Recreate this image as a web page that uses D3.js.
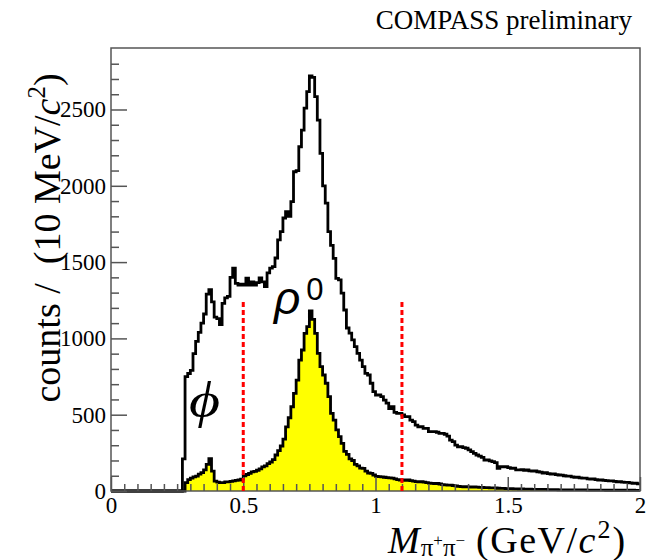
<!DOCTYPE html>
<html>
<head>
<meta charset="utf-8">
<script src="https://cdn.jsdelivr.net/npm/d3@7/dist/d3.min.js"></script>
<style>
  html, body { margin: 0; padding: 0; background: #fff; }
  svg { display: block; }
</style>
</head>
<body>
<svg id="chart" width="646" height="560"></svg>
<script>
// Invariant mass spectrum, 10 MeV bins from 0 to 2 GeV/c^2 (200 bins)
const massRange = [0, 2];
const binWidth = 0.01;

// All events (open histogram)
const totalCounts = [
  0,0,0,0,0,0,0,0,0,0, 0,0,0,0,0,0,0,0,0,0, 0,0,0,0,0,0,0,210,750,770,
  790,900,980,1040,1100,1160,1290,1320,1240,1140, 1130,1090,1230,1265,1275,1400,1460,1360,1350,1355,
  1350,1395,1350,1370,1350,1365,1396,1370,1340,1430, 1460,1470,1527,1645,1700,1789,1830,1800,1896,2092,
  2100,2256,2365,2509,2617,2720,2710,2584,2431,2213, 2000,1887,1700,1610,1525,1394,1383,1297,1186,1068,
  1035,990,946,902,858,815,771,760,706,651, 629,629,618,596,576,540,552,515,509,509,
  498,487,487,465,454,432,421,421,411,411, 389,389,389,385,378,378,372,360,334,323,
  301,290,290,284,280,269,258,247,236,229, 221,203,203,197,192,186,149,159,159,159,
  153,149,149,138,138,140,136,138,132,130, 131,126,124,118,120,114,110,112,107,105,
  104,100,97,98,92,90,91,86,84,85, 80,78,79,74,72,73,70,68,66,67,
  63,60,62,58,56,57,53,50,51,47
];

// Selected sample (filled histogram)
const selectedCounts = [
  0,0,0,0,0,0,0,0,0,0, 0,0,0,0,0,0,0,0,0,0, 0,0,0,0,0,0,0,0,55,75,
  85,92,98,110,120,138,175,212,130,65, 58,55,55,60,60,63,66,70,72,78,
  100,108,115,125,128,136,145,158,165,180, 190,205,236,265,295,340,420,480,552,640,
  727,858,924,1033,1077,1180,1125,1033,902,815, 760,706,618,509,465,400,356,312,260,240,
  210,200,175,165,150,148,130,118,115,105, 96,94,92,90,88,86,84,80,75,72,
  72,70,72,68,65,62,60,61,58,55, 52,50,48,50,46,42,40,38,39,36,
  33,30,29,28,28,27,26,27,25,24, 24,22,22,21,20,20,18,17,17,16,
  15,15,14,14,13,13,12,12,12,11, 11,11,10,10,10,9,9,9,9,8,
  8,8,8,8,7,7,7,7,7,7, 6,6,6,6,6,6,6,5,5,5,
  5,5,5,5,5,5,5,5,4,4
];

// Mass window boundaries and their drawn height
const windowEdges = [0.5, 1.1];
const windowTop = 1250;

// Axis ticks
const xMajorTicks = [0, 0.5, 1, 1.5, 2];
const yMajorTicks = [0, 500, 1000, 1500, 2000, 2500];
const yMax = 2903;

const SERIF = "'Liberation Serif'";
const SANS = "'Liberation Sans'";

const svg = d3.select("#chart");
const W = 646, H = 560;
svg.append("rect").attr("width", W).attr("height", H).attr("fill", "#fff");

const frame = { left: 111, right: 640, top: 48, bottom: 491 };

const x = d3.scaleLinear().domain(massRange).range([frame.left, frame.right]);
const y = d3.scaleLinear().domain([0, yMax]).range([frame.bottom, frame.top]);

// Step-shaped points: one per bin low edge, plus the final upper edge
function stepPoints(counts) {
  const pts = counts.map((c, i) => [massRange[0] + i * binWidth, c]);
  pts.push([massRange[1], counts[counts.length - 1]]);
  return pts;
}

const stepLine = d3.line()
  .curve(d3.curveStepAfter)
  .x(d => x(d[0]))
  .y(d => y(d[1]));

const stepArea = d3.area()
  .curve(d3.curveStepAfter)
  .x(d => x(d[0]))
  .y0(y(0))
  .y1(d => y(d[1]));

const plot = svg.append("g");

// Open histogram of all events
plot.append("path")
  .attr("d", stepLine(stepPoints(totalCounts)))
  .attr("fill", "none")
  .attr("stroke", "#000")
  .attr("stroke-width", 2.8);

// Filled histogram of the selected sample
const selPts = stepPoints(selectedCounts);
plot.append("path")
  .attr("d", stepArea(selPts))
  .attr("fill", "#ffff00")
  .attr("stroke", "none");
plot.append("path")
  .attr("d", stepLine(selPts))
  .attr("fill", "none")
  .attr("stroke", "#000")
  .attr("stroke-width", 2.8);

// Frame
svg.append("rect")
  .attr("x", frame.left).attr("y", frame.top)
  .attr("width", frame.right - frame.left)
  .attr("height", frame.bottom - frame.top)
  .attr("fill", "none")
  .attr("stroke", "#555")
  .attr("stroke-width", 1.5);

// Axes: ticks point into the frame
const xMinor = d3.range(0, 41).map(i => i * 0.05).filter(v => !xMajorTicks.some(t => Math.abs(t - v) < 1e-9));
const yMinor = d3.range(0, 29).map(i => i * 100).filter(v => v % 500 !== 0);

function styleAxis(g) {
  g.select(".domain").remove();
  g.selectAll(".tick line").attr("stroke", "#555").attr("stroke-width", 1.5);
  g.selectAll(".tick text")
    .attr("fill", "#000")
    .style("font-family", SERIF)
    .style("font-size", "23px");
}

svg.append("g")
  .attr("transform", `translate(0,${frame.bottom})`)
  .call(d3.axisBottom(x).tickValues(xMinor).tickSize(-7).tickFormat(""))
  .call(styleAxis);
svg.append("g")
  .attr("transform", `translate(0,${frame.bottom})`)
  .call(d3.axisBottom(x).tickValues(xMajorTicks).tickSize(-14).tickPadding(6).tickFormat(d3.format("~g")))
  .call(styleAxis);

svg.append("g")
  .attr("transform", `translate(${frame.left},0)`)
  .call(d3.axisLeft(y).tickValues(yMinor).tickSize(-8).tickFormat(""))
  .call(styleAxis);
svg.append("g")
  .attr("transform", `translate(${frame.left},0)`)
  .call(d3.axisLeft(y).tickValues(yMajorTicks).tickSize(-16).tickPadding(5).tickFormat(d3.format("d")))
  .call(styleAxis);

// Mass window markers
svg.append("g").selectAll("line")
  .data(windowEdges)
  .join("line")
  .attr("x1", d => x(d)).attr("x2", d => x(d))
  .attr("y1", y(0)).attr("y2", y(windowTop))
  .attr("stroke", "#ff0000")
  .attr("stroke-width", 3)
  .attr("stroke-dasharray", "5,3");

// Resonance labels
svg.append("text")
  .attr("transform", "translate(189,417) scale(1.2,1)")
  .style("font-family", SERIF)
  .style("font-style", "italic")
  .style("font-size", "50px")
  .text("ϕ");

const rho = svg.append("text")
  .attr("x", 274).attr("y", 314)
  .style("font-family", SANS)
  .style("font-size", "46px");
rho.append("tspan").style("font-style", "italic").text("ρ");
rho.append("tspan").attr("dx", 6).attr("dy", -14).style("font-size", "31px").text("0");

// Header
svg.append("text")
  .attr("x", 632).attr("y", 29)
  .attr("text-anchor", "end")
  .style("font-family", SERIF)
  .style("font-size", "27px")
  .text("COMPASS preliminary");

// Y axis title
const yTitle = svg.append("text")
  .attr("transform", "translate(60,238) rotate(-90)")
  .attr("text-anchor", "middle")
  .style("font-family", SERIF)
  .style("font-size", "38px")
  .style("white-space", "pre");
yTitle.append("tspan").text("counts /  (10 MeV/");
yTitle.append("tspan").style("font-style", "italic").text("c");
yTitle.append("tspan").attr("dy", -15).style("font-size", "25px").text("2");
yTitle.append("tspan").attr("dy", 15).text(")");

// X axis title
const xTitle = svg.append("text")
  .attr("x", 388).attr("y", 553)
  .style("font-family", SERIF)
  .style("font-size", "38px")
  .style("white-space", "pre");
xTitle.append("tspan").style("font-style", "italic").text("M");
xTitle.append("tspan").attr("dx", 1).attr("dy", 3).style("font-size", "25px").text("π");
xTitle.append("tspan").attr("dy", -10).style("font-size", "17px").text("+");
xTitle.append("tspan").attr("dy", 10).style("font-size", "25px").text("π");
xTitle.append("tspan").attr("dy", -10).style("font-size", "17px").text("−");
xTitle.append("tspan").attr("dx", 11).attr("dy", 7).style("letter-spacing", "1.5px").text("(GeV/");
xTitle.append("tspan").style("font-style", "italic").text("c");
xTitle.append("tspan").attr("dx", 2).attr("dy", -15).style("font-size", "26px").text("2");
xTitle.append("tspan").attr("dx", 2).attr("dy", 15).text(")");
</script>
</body>
</html>
